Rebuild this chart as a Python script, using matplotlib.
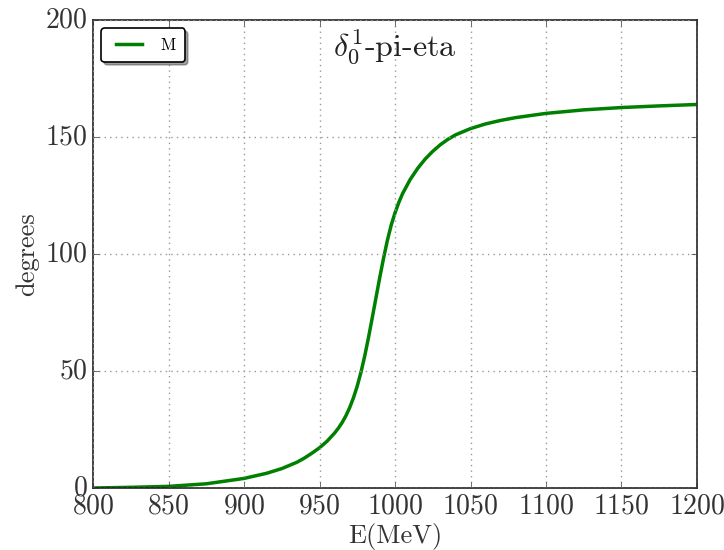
import matplotlib
matplotlib.use("Agg")
import matplotlib.pyplot as plt

# phase shift delta_0^1 (pi-eta channel) vs. energy
energy = [800, 825, 850, 875, 900, 915, 925, 935, 940, 945, 950, 955, 960,
          962.5, 965, 967.5, 970, 972.5, 975, 977.5, 980, 982.5, 985, 987.5,
          990, 992.5, 995, 997.5, 1000, 1002.5, 1005, 1010, 1015, 1020,
          1025, 1030, 1035, 1040, 1050, 1060, 1070, 1080, 1100, 1125, 1150,
          1175, 1200]
phase = [0.0, 0.3, 0.7, 1.8, 4.1, 6.3, 8.3, 11.0, 12.8, 14.9, 17.2, 20.0,
         23.5, 25.6, 28.0, 30.9, 34.4, 38.6, 43.6, 49.6, 56.6, 64.5, 73.0,
         81.7, 90.3, 98.5, 106.0, 112.4, 117.6, 122.0, 125.8, 131.8, 136.6,
         140.6, 143.9, 146.7, 149.0, 150.9, 153.6, 155.6, 157.1, 158.3,
         160.1, 161.6, 162.6, 163.3, 163.9]

xticks = [800, 850, 900, 950, 1000, 1050, 1100, 1150, 1200]
yticks = [0, 50, 100, 150, 200]

plt.style.use("classic")
plt.rcParams["font.family"] = "cmr10"
plt.rcParams["mathtext.fontset"] = "cm"
plt.rcParams["axes.formatter.use_mathtext"] = True

fig = plt.figure(figsize=(7.24, 5.5), dpi=100)
ax = fig.add_axes([0.1285, 0.1127, 0.8342, 0.8509])

ax.plot(energy, phase, color="g", lw=2.5, label="M")

ax.set_xlim(800, 1200)
ax.set_ylim(0, 200)
ax.set_xticks(xticks)
ax.set_yticks(yticks)
ax.tick_params(labelsize=20, colors="#333333", labelcolor="#333333", pad=4)
ax.grid(True, color="#999999", linestyle=":", linewidth=1)
for s in ax.spines.values():
    s.set_linewidth(1.2)
    s.set_color("#222222")

ax.set_xlabel("E(MeV)", fontsize=19, color="#333333", labelpad=2)
ax.set_ylabel("degrees", fontsize=19, color="#333333", labelpad=4)
ax.text(0.5, 0.985, r"$\delta_0^1$-pi-eta", transform=ax.transAxes,
        ha="center", va="top", fontsize=23, color="#222222")

leg = ax.legend(loc=2, fancybox=True, shadow=True, fontsize=12,
                handlelength=2.2, borderpad=0.55)
leg.get_frame().set_linewidth(1.2)

fig.savefig("out.png", dpi=100)
